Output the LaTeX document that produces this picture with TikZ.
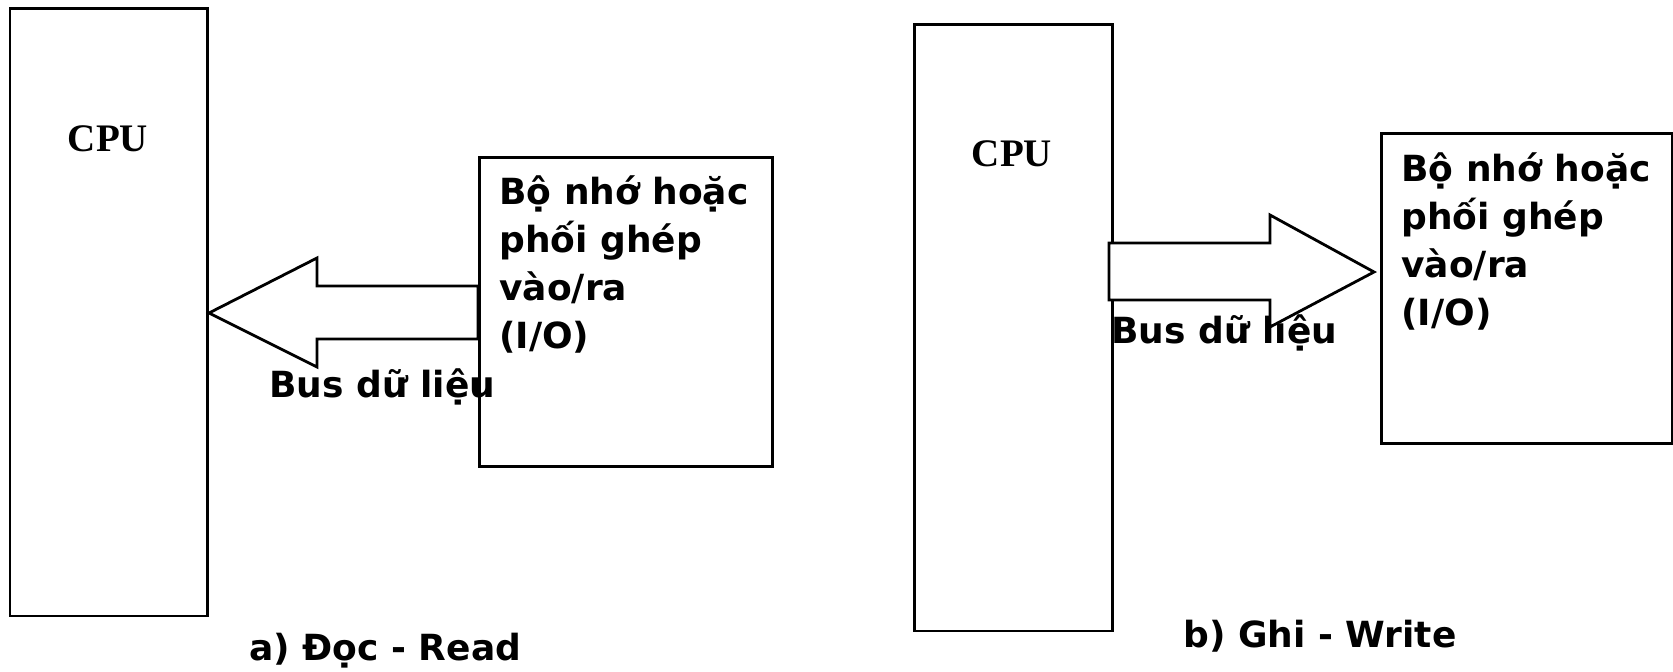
\documentclass[tikz,border=0pt]{standalone}
\usepackage{fontspec}
\setmainfont{DejaVu Sans}
\newfontfamily\cpufont{Liberation Serif}
\begin{document}
\begin{tikzpicture}[x=0.5pt,y=-0.5pt,
  box/.style={draw,line width=1.4pt,inner sep=0pt,anchor=north west},
  busarrow/.style={draw,line width=1.4pt,line join=miter,fill=white},
  cputext/.style={font=\cpufont\bfseries\fontsize{19.5}{22}\selectfont,inner sep=0pt,anchor=base},
  lbl/.style={font=\bfseries\fontsize{18}{24}\selectfont,inner sep=0pt,anchor=base west},
  memtext/.style={font=\bfseries\fontsize{18}{24}\selectfont,inner sep=0pt,anchor=base west,align=left}]
\useasboundingbox (0,0) rectangle (1673,672);
% --- a) Read
\node[box,minimum width=98.75pt,minimum height=303.5pt] (cpuA) at (8.5,7.5) {};
\node[cputext] (cpuAt) at (108,152) {CPU};
\node[box,minimum width=146.5pt,minimum height=154.5pt] (memA) at (478,156) {};
\node[memtext] (memAt) at (499,349) {Bộ nhớ hoặc\\phối ghép\\vào/ra\\(I/O)};
\coordinate (tipA) at (209,313);
\draw[busarrow] (tipA) -- (317,258) -- (317,286) -- (478,286) -- (478,339) -- (317,339) -- (317,367) -- cycle;
\node[lbl] (busA) at (269,398) {Bus dữ liệu};
\node[lbl] (capA) at (249,660) {a) Đọc - Read};
% --- b) Write
\node[box,minimum width=99pt,minimum height=303pt] (cpuB) at (913,23.5) {};
\node[cputext] (cpuBt) at (1012,167) {CPU};
\node[box,minimum width=145.5pt,minimum height=155pt] (memB) at (1380,132) {};
\node[memtext] (memBt) at (1401,326) {Bộ nhớ hoặc\\phối ghép\\vào/ra\\(I/O)};
\node[lbl] (busB) at (1111,344) {Bus dữ liệu};
\coordinate (tipB) at (1374,272);
\draw[busarrow] (1109,243) -- (1270,243) -- (1270,215) -- (tipB) -- (1270,327) -- (1270,300) -- (1109,300) -- cycle;
\node[lbl] (capB) at (1183,647) {b) Ghi - Write};
\end{tikzpicture}
\end{document}
